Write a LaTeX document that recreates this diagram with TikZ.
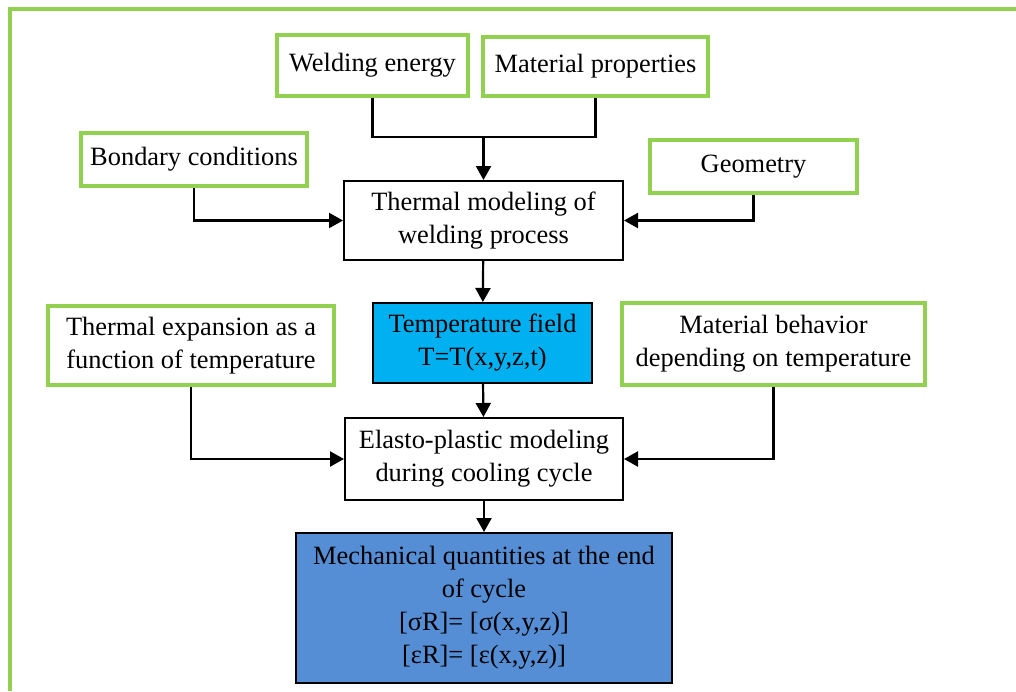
\documentclass[tikz,border=0pt]{standalone}
\usepackage{fontspec}
\setmainfont{Liberation Serif}
\usetikzlibrary{arrows.meta}
\definecolor{leafgreen}{HTML}{92D050}
\definecolor{skyblue}{HTML}{00B0F0}
\definecolor{steelblue}{HTML}{558ED5}

\begin{document}
\begin{tikzpicture}[x=0.5pt, y=-0.5pt, every node/.style={font=\fontsize{13.2}{16.5}\selectfont, align=center, inner sep=2pt}, >={Triangle[length=7pt,width=7.5pt]},
	inbox/.style={draw=leafgreen, line width=2pt, fill=white},
	stepbox/.style={draw=black, line width=1pt},
	conn/.style={line width=1.1pt}]
	\useasboundingbox (0,0) rectangle (1016,691);
	\draw[leafgreen, line width=2pt] (10,691) -- (10,9) -- (1016,9);
	% inputs
	\node[inbox, minimum width=95.5pt, minimum height=30.5pt] (welen) at (372.5,65.5) {Welding energy};
	\node[inbox, minimum width=112.5pt, minimum height=29.5pt] (matprop) at (595.5,66.5) {Material properties};
	\node[inbox, minimum width=113pt, minimum height=26.5pt] (bond) at (194,159.5) {Bondary conditions};
	\node[inbox, minimum width=103.5pt, minimum height=26.5pt] (geom) at (753.5,166.5) {Geometry};
	\node[inbox, minimum width=143pt, minimum height=39.5pt] (thexp) at (191,345.5) {Thermal expansion as a\\function of temperature};
	\node[inbox, minimum width=151.5pt, minimum height=41pt] (matbeh) at (773.5,344) {Material behavior\\depending on temperature};
	% main chain
	\node[stepbox, minimum width=139.5pt, minimum height=39.5pt] (thermal) at (483.5,220.5) {Thermal modeling of\\welding process};
	\node[stepbox, fill=skyblue, minimum width=109.5pt, minimum height=40pt] (temp) at (482.5,343) {Temperature field\\T=T(x,y,z,t)};
	\node[stepbox, minimum width=139pt, minimum height=41pt] (elasto) at (484,459) {Elasto-plastic modeling\\during cooling cycle};
	\node[stepbox, fill=steelblue, minimum width=188pt, minimum height=75pt] (mech) at (484,608) {Mechanical quantities at the end\\of cycle\\{[σR]= [σ(x,y,z)]}\\{[εR]= [ε(x,y,z)]}};
	% connectors
	\coordinate (jn) at (483.5,137);
	\draw[conn] (welen.south) |- (jn) -| (matprop.south);
	\draw[conn,->] (jn) -- (thermal.north);
	\draw[conn,->] (bond.south) |- (thermal.west);
	\draw[conn,->] (geom.south) |- (thermal.east);
	\draw[conn,->] (thermal) -- (temp);
	\draw[conn,->] (temp) -- (elasto);
	\draw[conn,->] (thexp.south) |- (elasto.west);
	\draw[conn,->] (matbeh.south) |- (elasto.east);
	\draw[conn,->] (elasto) -- (mech);
\end{tikzpicture}
\end{document}
